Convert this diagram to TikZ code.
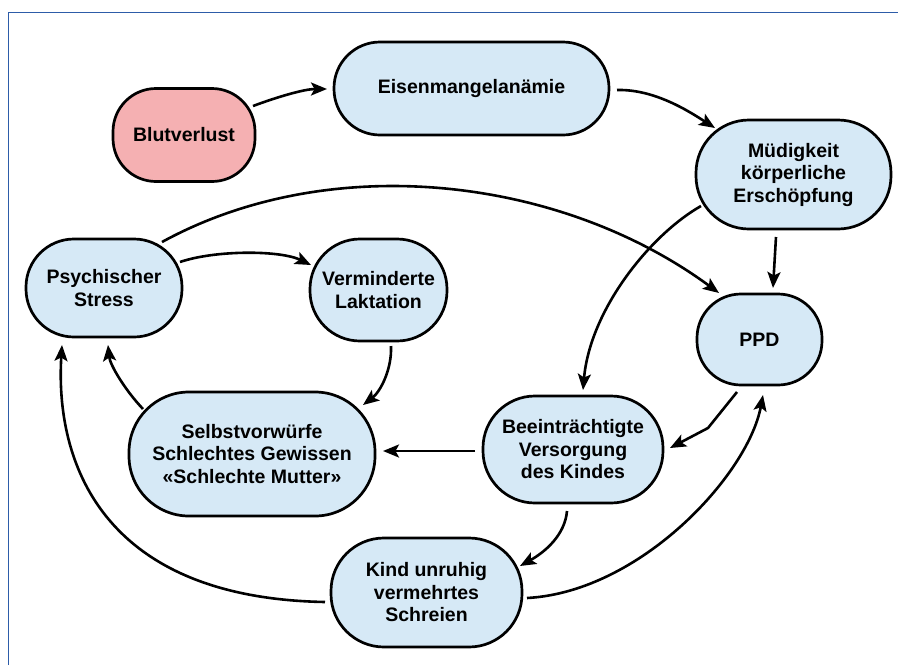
\documentclass[tikz,border=0pt]{standalone}
\usepackage{fontspec}
\setmainfont{Liberation Sans}
\usetikzlibrary{arrows.meta,calc}
\definecolor{boxblue}{RGB}{214,233,246}
\definecolor{boxpink}{RGB}{245,176,178}
\definecolor{framebl}{RGB}{45,92,168}
\begin{document}
\begin{tikzpicture}[x=1pt,y=-1pt,
  box/.style={draw=black, line width=2.7pt, fill=boxblue, align=center, inner sep=0pt,
    font=\fontsize{19.5}{22.5}\selectfont\bfseries},
  arr/.style={line width=2.6pt, -{Stealth[length=16pt,width=13pt,inset=3.5pt]}},
  frameline/.style={draw=framebl, line width=1.8pt}]
\useasboundingbox (0,0) rectangle (898,665);
\draw[frameline] (8.5,665) -- (8.5,12.5) -- (898,12.5);

\node[box, fill=boxpink, minimum width=142pt, minimum height=93pt, rounded corners=43pt] (blut) at (184,135) {Blutverlust};
\node[box, minimum width=275pt, minimum height=93pt, rounded corners=46pt] (eisen) at (471.5,88.5) {Eisenmangelanämie};
\node[box, minimum width=195pt, minimum height=109pt, rounded corners=53pt] (mud) at (793.5,174.5) {Müdigkeit\\körperliche\\Erschöpfung};
\node[box, minimum width=125pt, minimum height=91pt, rounded corners=44pt] (ppd) at (759.5,339.5) {PPD};
\node[box, minimum width=156pt, minimum height=98pt, rounded corners=48pt] (psy) at (104,288) {Psychischer\\Stress};
\node[box, minimum width=137pt, minimum height=102pt, rounded corners=50pt] (verm) at (378.5,290) {Verminderte\\Laktation};
\node[box, minimum width=246pt, minimum height=124pt, rounded corners=60pt] (selb) at (252,454) {Selbstvorwürfe\\Schlechtes Gewissen\\«Schlechte Mutter»};
\node[box, minimum width=180pt, minimum height=107pt, rounded corners=52pt] (beein) at (573,449.5) {Beeinträchtigte\\Versorgung\\des Kindes};
\node[box, minimum width=191pt, minimum height=109pt, rounded corners=53pt] (kind) at (426.5,592.5) {Kind unruhig\\vermehrtes\\Schreien};

\draw[arr] ($(blut)+(69,-29)$) .. controls (280,96) and (305,89) .. ($(eisen)+(-144.5,0.5)$);
\draw[arr] ($(eisen)+(145.5,1.5)$) .. controls (655,89) and (690,112) .. ($(mud)+(-78.5,-46.5)$);
\draw[arr] ($(mud)+(-17.5,62.5)$) -- ($(ppd)+(13.5,-51.5)$);
\draw[arr] ($(psy)+(58,-46)$) .. controls (330,150) and (560,176) .. ($(ppd)+(-40.5,-46.5)$);
\draw[arr] ($(psy)+(76,-26)$) .. controls (215,250) and (280,250) .. ($(verm)+(-67.5,-25)$);
\draw[arr] ($(mud)+(-92.5,31.5)$) .. controls (650,235) and (590,310) .. ($(beein)+(10,-59.5)$);
\coordinate (kink) at (708,428);
\draw[arr] ($(ppd)+(-22.5,52.5)$) -- (kink) -- ($(beein)+(97,-1.5)$);
\draw[arr] ($(beein)+(-98,1.5)$) -- ($(selb)+(131,-3)$);
\draw[arr] ($(verm)+(12.5,56)$) .. controls (392,370) and (380,392) .. ($(selb)+(111,-49)$);
\draw[arr] ($(selb)+(-109,-45)$) .. controls (125,390) and (110,365) .. ($(psy)+(4,57)$);
\draw[arr] ($(kind)+(-101.5,9.5)$) .. controls (100,598) and (55,460) .. ($(psy)+(-42,57)$);
\draw[arr] ($(beein)+(-6,61.5)$) .. controls (565,535) and (545,552) .. ($(kind)+(93.5,-26.5)$);
\draw[arr] ($(kind)+(100.5,5.5)$) .. controls (640,592) and (748,475) .. ($(ppd)+(3.5,55.5)$);
\end{tikzpicture}
\end{document}
